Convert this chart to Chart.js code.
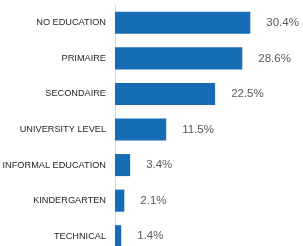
<!DOCTYPE html>
<html>
<head>
<meta charset="utf-8">
<script src="https://cdn.jsdelivr.net/npm/chart.js@4"></script>
<style>
html,body{margin:0;padding:0;background:#fff;overflow:hidden;}
#wrap{position:relative;width:303px;height:256px;}
</style>
</head>
<body>
<div id="wrap"><canvas id="c"></canvas></div>
<script>
const categories = ["NO EDUCATION","PRIMAIRE","SECONDAIRE","UNIVERSITY LEVEL","INFORMAL EDUCATION","KINDERGARTEN","TECHNICAL"];
const values = [30.4, 28.6, 22.5, 11.5, 3.4, 2.1, 1.4];
const valueLabels = ["30.4%","28.6%","22.5%","11.5%","3.4%","2.1%","1.4%"];

const valueLabelPlugin = {
  id: 'valueLabels',
  afterDatasetsDraw(chart) {
    const ctx = chart.ctx;
    const meta = chart.getDatasetMeta(0);
    ctx.save();
    ctx.font = '11.5px "Liberation Sans", Arial, sans-serif';
    ctx.fillStyle = '#595959';
    ctx.textAlign = 'left';
    ctx.textBaseline = 'middle';
    meta.data.forEach((bar, i) => {
      ctx.fillText(valueLabels[i], bar.x + 16, bar.y);
    });
    ctx.restore();
  }
};

new Chart(document.getElementById('c'), {
  type: 'bar',
  data: {
    labels: categories,
    datasets: [{
      data: values,
      backgroundColor: '#166db6',
      borderWidth: 0,
      categoryPercentage: 1.0,
      barPercentage: 0.62
    }]
  },
  options: {
    indexAxis: 'y',
    responsive: true,
    maintainAspectRatio: false,
    animation: false,
    layout: { padding: { top: 5, bottom: 2, left: 0, right: 10 } },
    plugins: { legend: { display: false }, tooltip: { enabled: false } },
    scales: {
      x: { display: false, min: 0, max: 40 },
      y: {
        grid: { display: false, drawTicks: false },
        border: { display: true, color: '#d9d9d9', width: 1 },
        ticks: {
          color: '#262626',
          padding: 9,
          font: { family: '"Liberation Sans", Arial, sans-serif', size: 9.2 }
        },
        afterFit(scale) { scale.width = 115; scale.paddingTop = 0; scale.paddingBottom = 0; }
      }
    }
  },
  plugins: [valueLabelPlugin]
});
</script>
</body>
</html>
